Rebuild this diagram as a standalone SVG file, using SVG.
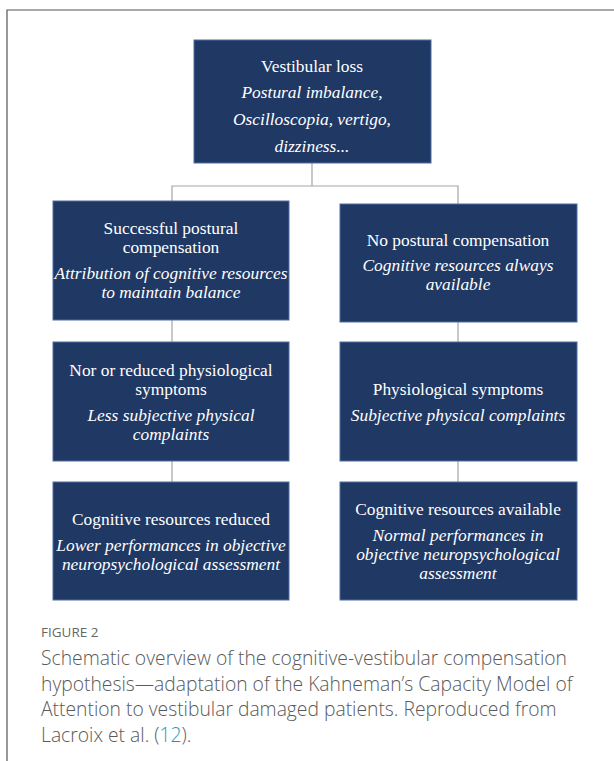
<svg xmlns="http://www.w3.org/2000/svg" width="614" height="761" viewBox="0 0 614 761">
<style>
.box{fill:#203864;stroke:#4f6fa3;stroke-width:1}
.t{font-family:"Liberation Serif","Times New Roman",serif;font-size:17.4px;fill:#ffffff;text-anchor:middle}
.i{font-style:italic}
.c{fill:none;stroke:#a5a5a5;stroke-width:1.2}
.cap{font-family:"Open Sans","Liberation Sans",sans-serif;font-weight:300;font-size:19.3px;fill:#5a5a5a}
.fig{font-family:"Open Sans","Liberation Sans",sans-serif;font-size:13.5px;fill:#666666}
</style>
<rect width="614" height="761" fill="#ffffff"/>
<path d="M7,761 V10 H614" fill="none" stroke="#555555" stroke-width="1.2"/>
<g id="connectors">
<path class="c" d="M312,163 V186 M172,201 V186 H458 V204"/>
<path class="c" d="M172,320 V342 M458,322 V342"/>
<path class="c" d="M172,461 V482 M458,461 V482"/>
</g>
<g id="top">
<rect class="box" x="194" y="40" width="237" height="123"/>
<text class="t" x="312" y="72">Vestibular loss</text>
<text class="t i" x="312" y="98">Postural imbalance,</text>
<text class="t i" x="312" y="125">Oscilloscopia, vertigo,</text>
<text class="t i" x="312" y="152">dizziness...</text>
</g>
<g id="left1">
<rect class="box" x="53" y="201" width="236" height="119"/>
<text class="t" x="171" y="234">Successful postural</text>
<text class="t" x="171" y="253">compensation</text>
<text class="t i" x="171" y="279">Attribution of cognitive resources</text>
<text class="t i" x="171" y="298">to maintain balance</text>
</g>
<g id="right1">
<rect class="box" x="340" y="204" width="237" height="118"/>
<text class="t" x="458" y="246">No postural compensation</text>
<text class="t i" x="458" y="271">Cognitive resources always</text>
<text class="t i" x="458" y="290">available</text>
</g>
<g id="left2">
<rect class="box" x="53" y="342" width="236" height="119"/>
<text class="t" x="171" y="376">Nor or reduced physiological</text>
<text class="t" x="171" y="395">symptoms</text>
<text class="t i" x="171" y="421">Less subjective physical</text>
<text class="t i" x="171" y="440">complaints</text>
</g>
<g id="right2">
<rect class="box" x="340" y="342" width="237" height="119"/>
<text class="t" x="458" y="395">Physiological symptoms</text>
<text class="t i" x="458" y="421">Subjective physical complaints</text>
</g>
<g id="left3">
<rect class="box" x="53" y="482" width="236" height="118"/>
<text class="t" x="171" y="525">Cognitive resources reduced</text>
<text class="t i" x="171" y="551">Lower performances in objective</text>
<text class="t i" x="171" y="570">neuropsychological assessment</text>
</g>
<g id="right3">
<rect class="box" x="340" y="482" width="237" height="118"/>
<text class="t" x="458" y="515">Cognitive resources available</text>
<text class="t i" x="458" y="541">Normal performances in</text>
<text class="t i" x="458" y="560">objective neuropsychological</text>
<text class="t i" x="458" y="579">assessment</text>
</g>
<g id="caption">
<text class="fig" x="41" y="637">FIGURE 2</text>
<text class="cap" x="41" y="665">Schematic overview of the cognitive-vestibular compensation</text>
<text class="cap" x="41" y="691">hypothesis—adaptation of the Kahneman’s Capacity Model of</text>
<text class="cap" x="41" y="716">Attention to vestibular damaged patients. Reproduced from</text>
<text class="cap" x="41" y="742">Lacroix et al. (<tspan fill="#1a9bb8">12</tspan>).</text>
</g>
</svg>
